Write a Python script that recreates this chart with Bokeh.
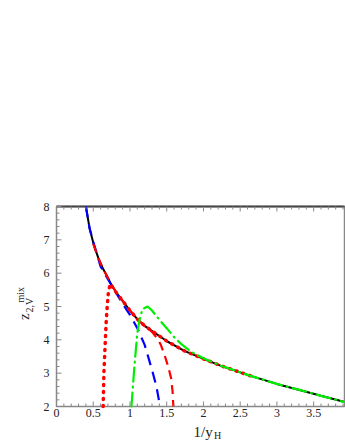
import math
from bokeh.plotting import figure
from bokeh.models import Range1d
from bokeh.core.properties import value
from bokeh.embed import file_html
from bokeh.resources import INLINE

# ---- data ----
black_x = [0.40, 0.45, 0.51, 0.57, 0.63, 0.69, 0.74, 0.82, 0.90, 1.00, 1.10, 1.20, 1.33, 1.51, 1.74, 2.01, 2.24, 2.64, 3.01, 3.32, 3.60, 3.91]
black_y = [8.00, 7.35, 6.83, 6.45, 6.15, 5.90, 5.68, 5.40, 5.17, 4.88, 4.62, 4.42, 4.22, 3.95, 3.67, 3.42, 3.22, 2.92, 2.67, 2.49, 2.32, 2.14]

blue_x = [0.40, 0.45, 0.50, 0.60, 0.70, 0.80, 0.90, 1.00, 1.10, 1.20, 1.30, 1.36, 1.41]
blue_y = [8.00, 7.35, 6.95, 6.20, 5.82, 5.45, 5.08, 4.75, 4.35, 3.85, 3.10, 2.60, 2.00]

reddash_x = [0.50, 0.57, 0.63, 0.69, 0.74, 0.82, 0.90, 1.00, 1.10, 1.20, 1.30, 1.37, 1.42, 1.47, 1.52, 1.56, 1.58, 1.59]
reddash_y = [6.88, 6.45, 6.15, 5.90, 5.68, 5.40, 5.17, 4.88, 4.62, 4.42, 4.24, 4.05, 3.85, 3.55, 3.20, 2.85, 2.45, 2.00]

reddot_x = [0.635, 0.640, 0.645, 0.655, 0.665, 0.675, 0.690, 0.705, 0.73, 0.82, 0.90, 1.00, 1.10, 1.20, 1.33, 1.51, 1.74, 2.01, 2.24, 2.64]
reddot_y = [2.00, 2.50, 3.00, 3.50, 4.00, 4.50, 5.00, 5.40, 5.68, 5.40, 5.17, 4.88, 4.62, 4.42, 4.22, 3.95, 3.67, 3.42, 3.22, 2.92]

green_x = [1.02, 1.04, 1.06, 1.08, 1.10, 1.13, 1.17, 1.24, 1.30, 1.40, 1.50, 1.60, 1.70, 1.80, 1.90, 2.00, 2.24, 2.64, 3.01, 3.32, 3.60, 3.91]
green_y = [2.00, 2.60, 3.20, 3.70, 4.20, 4.60, 4.92, 5.00, 4.88, 4.60, 4.35, 4.08, 3.87, 3.70, 3.56, 3.45, 3.22, 2.92, 2.67, 2.49, 2.32, 2.14]

x_ticks = [0, 0.5, 1, 1.5, 2, 2.5, 3, 3.5]
x_tick_labels = ["0", "0.5", "1", "1.5", "2", "2.5", "3", "3.5"]
x_minor = [0.1, 0.2, 0.3, 0.4, 0.6, 0.7, 0.8, 0.9, 1.1, 1.2, 1.3, 1.4, 1.6, 1.7, 1.8, 1.9,
           2.1, 2.2, 2.3, 2.4, 2.6, 2.7, 2.8, 2.9, 3.1, 3.2, 3.3, 3.4, 3.6, 3.7, 3.8, 3.9]
y_ticks = [2, 3, 4, 5, 6, 7, 8]
y_tick_labels = ["2", "3", "4", "5", "6", "7", "8"]
y_minor = [2.2, 2.4, 2.6, 2.8, 3.2, 3.4, 3.6, 3.8, 4.2, 4.4, 4.6, 4.8, 5.2, 5.4, 5.6, 5.8,
           6.2, 6.4, 6.6, 6.8, 7.2, 7.4, 7.6, 7.8]
x_title, x_title_sub = "1/y", "H"
y_title, y_title_sub, y_title_sup = "z", "2,V", "mix"

# ---- layout: plot box inside the canvas (pixels) ----
X0, X1, Y0, Y1 = 0.0, 3.92, 2.0, 8.0
W, H = 345, 446
FL, FR, FT, FB = 56, 344, 206, 406
kx = (X1 - X0) / (FR - FL)
ky = (Y1 - Y0) / (FB - FT)

def dx(px):
    return X0 + (px - FL) * kx

def dy(py):
    return Y0 + (FB - py) * ky

FONT = value("Liberation Serif")
AXC = "#888888"
TXT = "#222222"

p = figure(width=W, height=H, output_backend="svg", toolbar_location=None,
           x_range=Range1d(dx(0), dx(W)), y_range=Range1d(dy(H), dy(0)),
           x_axis_location=None, y_axis_location=None, min_border=0)
p.outline_line_color = None
p.grid.visible = False
p.background_fill_color = "white"
p.border_fill_color = "white"

# plot box
p.quad(left=[X0], right=[X1], bottom=[Y0], top=[Y1], fill_color=None,
       line_color=AXC, line_width=1.5)
p.segment(x0=[X0], y0=[Y1], x1=[X1], y1=[Y1], line_color="#444444", line_width=2)

# curves
p.line(black_x, black_y, line_color="black", line_width=2)
p.line(blue_x, blue_y, line_color="#0000ff", line_width=2.2, line_dash="11 7")
p.line(reddash_x, reddash_y, line_color="#ff0000", line_width=2.2, line_dash="9 6")
p.line(reddot_x, reddot_y, line_color="#ff0000", line_width=3.5, line_dash="1 6", line_cap="round")
p.line(green_x, green_y, line_color="#00ee00", line_width=2.2, line_dash="14 5 1 5", line_cap="round")

# ticks (pointing inwards)
MAJ, MIN = 5, 3
for ys, sgn in ((Y0, 1), (Y1, -1)):
    p.segment(x0=x_ticks, y0=[ys] * len(x_ticks), x1=x_ticks,
              y1=[ys + sgn * MAJ * ky] * len(x_ticks), line_color=AXC, line_width=1)
    p.segment(x0=x_minor, y0=[ys] * len(x_minor), x1=x_minor,
              y1=[ys + sgn * MIN * ky] * len(x_minor), line_color=AXC, line_width=1)
p.segment(x0=[X0] * len(y_ticks), y0=y_ticks, x1=[X0 + MAJ * kx] * len(y_ticks),
          y1=y_ticks, line_color=AXC, line_width=1)
p.segment(x0=[X0] * len(y_minor), y0=y_minor, x1=[X0 + MIN * kx] * len(y_minor),
          y1=y_minor, line_color=AXC, line_width=1)

# tick labels
p.text(x=x_ticks, y=[dy(FB + 2)] * len(x_ticks), text=x_tick_labels, text_font=FONT,
       text_font_size=value("12px"), text_align="center", text_baseline="top", text_color=TXT)
p.text(x=[dx(FL - 7)] * len(y_ticks), y=y_ticks, text=y_tick_labels, text_font=FONT,
       text_font_size=value("12px"), text_align="right", text_baseline="middle", text_color=TXT)

# axis titles (with sub/superscripts)
def title(t, px, py, size, angle=0.0):
    p.text(x=[dx(px)], y=[dy(py)], text=[t], text_font=FONT, text_font_size=value(size),
           text_align="left", text_baseline="alphabetic", text_color=TXT, angle=angle)

title(x_title, 193, 431, "15px")
title(x_title_sub, 213.5, 435, "10px")
title(y_title, 23.5, 319.5, "15px", math.pi / 2)
title(y_title_sub, 29, 312, "10px", math.pi / 2)
title(y_title_sup, 20, 302, "10px", math.pi / 2)

open("out.html", "w").write(file_html(p, INLINE))
